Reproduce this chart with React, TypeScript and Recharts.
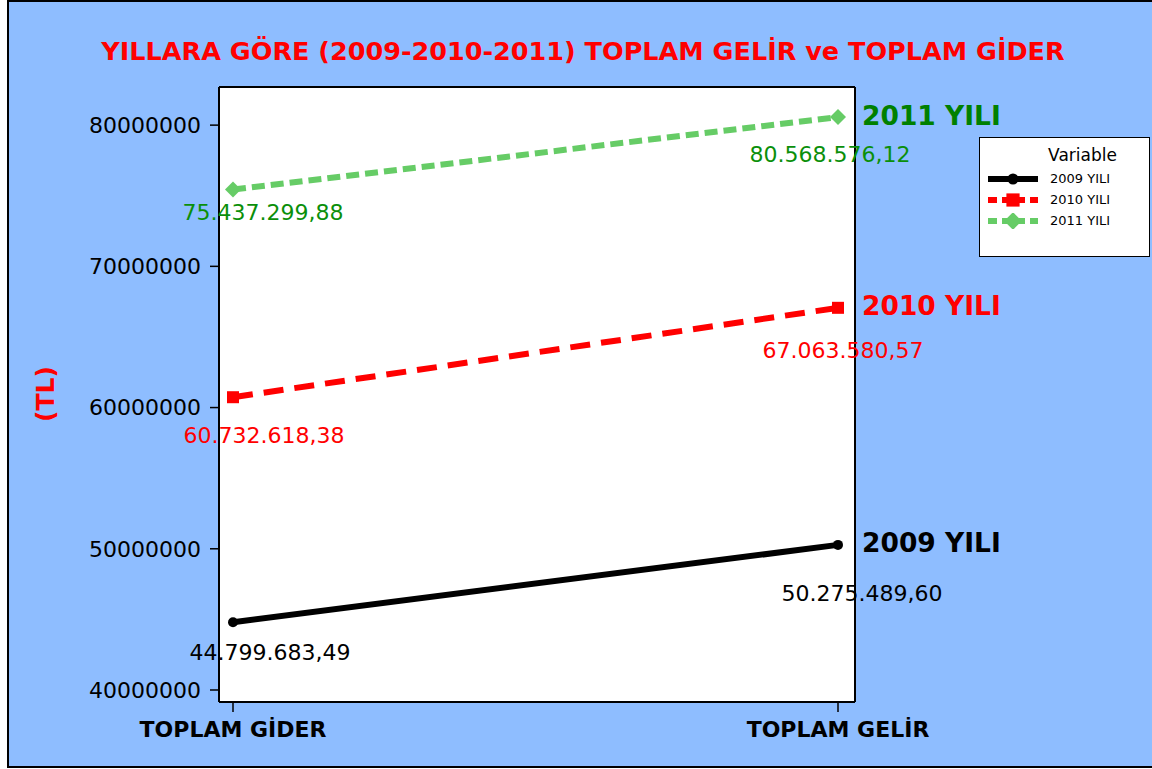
import { CartesianGrid, LabelList, Legend, Line, LineChart, XAxis, YAxis } from "recharts";

const CATEGORIES = ["TOPLAM GİDER", "TOPLAM GELİR"];
const TOTALS_2009 = [44799683.49, 50275489.6];
const TOTALS_2010 = [60732618.38, 67063580.57];
const TOTALS_2011 = [75437299.88, 80568576.12];
const SERIES_NAMES = ["2009 YILI", "2010 YILI", "2011 YILI"];
const Y_TICKS = [40000000, 50000000, 60000000, 70000000, 80000000];

const BG = "#8ebdff";
const FONT = "'DejaVu Sans', Verdana, sans-serif";

const rows = CATEGORIES.map((cat, i) => ({
  cat,
  y2009: TOTALS_2009[i],
  y2010: TOTALS_2010[i],
  y2011: TOTALS_2011[i],
}));

type Shape = "circle" | "square" | "diamond";

const SERIES: {
  key: string;
  stroke: string;
  dash?: string;
  shape: Shape;
  valueColor: string;
  nameColor: string;
  nudge: [number, number][];
}[] = [
  { key: "y2009", stroke: "#000000", shape: "circle", valueColor: "#000000", nameColor: "#000000", nudge: [[37, 30], [24, 49]] },
  { key: "y2010", stroke: "#ff0000", dash: "20 11", shape: "square", valueColor: "#ff0000", nameColor: "#ff0000", nudge: [[31, 38], [5, 43]] },
  { key: "y2011", stroke: "#66cc66", dash: "13 6", shape: "diamond", valueColor: "#0a8f0a", nameColor: "#008000", nudge: [[30, 23], [-8, 37]] },
];

function trNumber(v: number) {
  const [int, dec] = v.toFixed(2).split(".");
  return int.replace(/\B(?=(\d{3})+(?!\d))/g, ".") + "," + dec;
}

function Marker({ cx, cy, shape, color, size = 1 }: { cx: number; cy: number; shape: Shape; color: string; size?: number }) {
  if (shape === "circle") return <circle cx={cx} cy={cy} r={5 * size} fill={color} />;
  if (shape === "square") return <rect x={cx - 6 * size} y={cy - 6 * size} width={12 * size} height={12 * size} fill={color} />;
  const d = 8 * size;
  return <polygon points={`${cx},${cy - d} ${cx + d},${cy} ${cx},${cy + d} ${cx - d},${cy}`} fill={color} />;
}

function LegendBox({ payload }: any) {
  return (
    <div
      style={{
        width: 171,
        height: 120,
        boxSizing: "border-box",
        border: "1.5px solid #000",
        background: "#fff",
        fontFamily: FONT,
        paddingTop: 6,
      }}
    >
      <div style={{ fontSize: 17, textAlign: "center", paddingLeft: 36, lineHeight: "22px", marginBottom: 2 }}>
        Variable
      </div>
      {(payload || []).map((entry: any, i: number) => {
        const s = SERIES[i];
        return (
          <div key={entry.value} style={{ display: "flex", alignItems: "center", height: 21 }}>
            <svg width={64} height={16} style={{ marginLeft: 6 }}>
              <line x1={2} x2={52} y1={8} y2={8} stroke={s.stroke} strokeWidth={6} strokeDasharray={s.dash ? "9 5" : undefined} />
              <Marker cx={27} cy={8} shape={s.shape} color={s.stroke} size={1.1} />
            </svg>
            <span style={{ fontSize: 13 }}>{entry.value}</span>
          </div>
        );
      })}
    </div>
  );
}

export default function App() {
  return (
    <div
      style={{
        position: "absolute",
        left: 7,
        top: 0,
        width: 1152,
        height: 768,
        boxSizing: "border-box",
        border: "2px solid #000",
        background: BG,
        fontFamily: FONT,
      }}
    >
      <div
        style={{
          position: "absolute",
          left: 0,
          top: 34,
          width: 1148,
          textAlign: "center",
          color: "#ff0000",
          fontWeight: "bold",
          fontSize: 25.5,
          lineHeight: "30px",
        }}
      >
        YILLARA GÖRE (2009-2010-2011) TOPLAM GELİR ve TOPLAM GİDER
      </div>
      <div
        style={{
          position: "absolute",
          left: -13,
          top: 377,
          width: 100,
          height: 30,
          lineHeight: "30px",
          textAlign: "center",
          color: "#ff0000",
          fontWeight: "bold",
          fontSize: 25,
          transform: "rotate(-90deg)",
        }}
      >
        (TL)
      </div>
      <LineChart
        width={1148}
        height={764}
        data={rows}
        margin={{ top: 85, right: 302, bottom: 0, left: 0 }}
        style={{ fontFamily: FONT }}
      >
        <CartesianGrid
          fill="#ffffff"
          stroke="#000"
          strokeWidth={2}
          horizontalCoordinatesGenerator={({ offset }: any) => [offset.top, offset.top + offset.height]}
          verticalCoordinatesGenerator={({ offset }: any) => [offset.left, offset.left + offset.width]}
        />
        <XAxis
          dataKey="cat"
          height={64}
          padding={{ left: 14, right: 17 }}
          axisLine={false}
          tickLine={{ stroke: "#000", strokeWidth: 1.5 }}
          tickSize={10}
          tickMargin={9}
          tick={{ fill: "#000", fontSize: 22, fontWeight: "bold" }}
        />
        <YAxis
          width={210}
          type="number"
          domain={[39150000, 82700000]}
          allowDataOverflow
          ticks={Y_TICKS}
          interval={0}
          axisLine={false}
          tickLine={{ stroke: "#000", strokeWidth: 1.5 }}
          tickSize={9}
          tickMargin={9}
          tick={{ fill: "#000", fontSize: 22 }}
          tickFormatter={(v: number) => String(v)}
        />
        <Legend
          layout="vertical"
          align="center"
          verticalAlign="middle"
          wrapperStyle={{ left: 970, top: 135, width: 171 }}
          content={<LegendBox />}
        />
        {SERIES.map((s, si) => (
          <Line
            key={s.key}
            dataKey={s.key}
            name={SERIES_NAMES[si]}
            type="linear"
            stroke={s.stroke}
            strokeWidth={6}
            strokeDasharray={s.dash}
            isAnimationActive={false}
            dot={(p: any) => <Marker key={`${s.key}-${p.index}`} cx={p.cx} cy={p.cy} shape={s.shape} color={s.stroke} />}
            activeDot={false}
          >
            <LabelList
              dataKey={s.key}
              content={(p: any) => {
                const [dx, dy] = s.nudge[p.index] || [0, 0];
                const last = p.index === CATEGORIES.length - 1;
                return (
                  <g>
                    <text
                      x={p.x + dx}
                      y={p.y + dy}
                      textAnchor="middle"
                      dominantBaseline="central"
                      fill={s.valueColor}
                      fontSize={22}
                    >
                      {trNumber(Number(p.value))}
                    </text>
                    {last && (
                      <text
                        x={p.x + 24}
                        y={p.y - 2}
                        dominantBaseline="central"
                        fill={s.nameColor}
                        fontSize={26.5}
                        fontWeight="bold"
                      >
                        {SERIES_NAMES[si]}
                      </text>
                    )}
                  </g>
                );
              }}
            />
          </Line>
        ))}
      </LineChart>
    </div>
  );
}
